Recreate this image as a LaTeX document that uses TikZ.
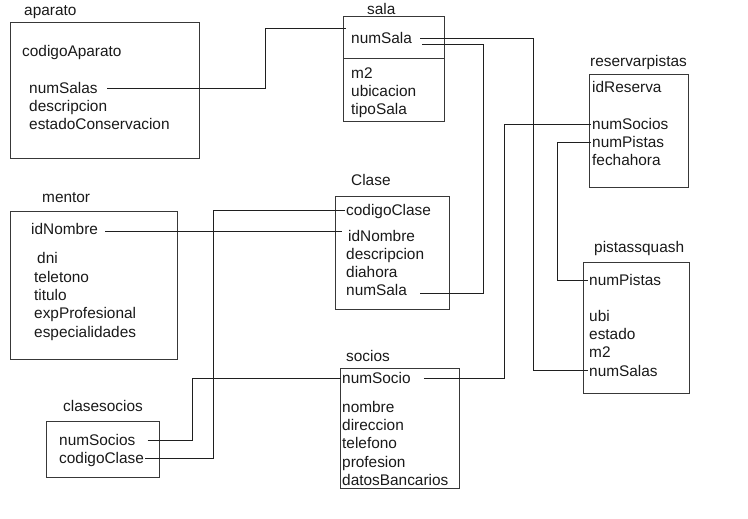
\documentclass[tikz,border=0pt]{standalone}
\usepackage{fontspec}
\setmainfont{Liberation Sans}
\usepackage{tikz}
\usetikzlibrary{positioning}

\tikzset{
    attr/.style={anchor=west, inner xsep=1pt, inner ysep=0pt, text height=14.3pt, text depth=3.5pt,
        font=\fontsize{15.4}{18}\selectfont, text=black!90},
    row/.style={attr, below=0pt of #1.south west, anchor=north west},
    tbl/.style={draw=black!78, semithick},
    link/.style={draw=black!88, semithick}
}

\begin{document}
\begin{tikzpicture}[x=1pt,y=-1pt]
    \useasboundingbox (0,0) rectangle (748,519);

    % aparato table top left
    \node[attr] (apTitle) at (23,10) {aparato};
    \draw[tbl] (10,22) rectangle (199,158);
    \node[attr] (apCodigo) at (21,51) {codigoAparato};
    \node[attr] (apNumSalas) at (28,88) {numSalas};
    \node[row=apNumSalas] (apDesc) {descripcion};
    \node[row=apDesc] (apEstado) {estadoConservacion};

    % sala table
    \node[attr] (salaTitle) at (366,9) {sala};
    \draw[tbl] (343,16) rectangle (444,121);
    \draw[tbl] (343,58) -- (444,58);
    \node[attr] (salaNumSala) at (350,38) {numSala};
    \node[attr] (salaM2) at (350,73) {m2};
    \node[row=salaM2] (salaUbic) {ubicacion};
    \node[row=salaUbic] (salaTipo) {tipoSala};

    % reservarpistas table
    \node[attr] (rpTitle) at (589,61) {reservarpistas};
    \draw[tbl] (589,74) rectangle (688,187);
    \node[attr] (rpIdReserva) at (591,87) {idReserva};
    \node[attr] (rpNumSocios) at (591,124) {numSocios};
    \node[row=rpNumSocios] (rpNumPistas) {numPistas};
    \node[row=rpNumPistas] (rpFecha) {fechahora};

    % pistassquash table
    \node[attr] (psTitle) at (593,247) {pistassquash};
    \draw[tbl] (583,262) rectangle (689,393);
    \node[attr] (psNumPistas) at (588,280) {numPistas};
    \node[attr] (psUbi) at (588,316) {ubi};
    \node[row=psUbi] (psEstado) {estado};
    \node[row=psEstado] (psM2) {m2};
    \node[row=psM2] (psNumSalas) {numSalas};

    % mentor table
    \node[attr] (meTitle) at (41,197) {mentor};
    \draw[tbl] (10,211) rectangle (177,359);
    \node[attr] (meIdNombre) at (30,229) {idNombre};
    \node[attr] (meDni) at (36,258) {dni};
    \node[attr] (meTelefono) at (33,277) {teletono};
    \node[row=meTelefono] (meTitulo) {titulo};
    \node[row=meTitulo] (meExp) {expProfesional};
    \node[row=meExp] (meEspec) {especialidades};

    % Clase table
    \node[attr] (clTitle) at (350,180) {Clase};
    \draw[tbl] (335,196) rectangle (449,309);
    \node[attr] (clCodigo) at (345,210) {codigoClase};
    \node[attr] (clIdNombre) at (347,236) {idNombre};
    \node[attr] (clDesc) at (345,254) {descripcion};
    \node[row=clDesc] (clDiahora) {diahora};
    \node[row=clDiahora] (clNumSala) {numSala};

    % clasesocios table
    \node[attr] (csTitle) at (62,406) {clasesocios};
    \draw[tbl] (46,421) rectangle (159,477);
    \node[attr] (csNumSocios) at (58,440) {numSocios};
    \node[row=csNumSocios] (csCodigo) {codigoClase};

    % socios table
    \node[attr] (soTitle) at (345,356) {socios};
    \draw[tbl] (340,368) rectangle (459,488);
    \node[attr] (soNumSocio) at (341,378) {numSocio};
    \node[attr] (soNombre) at (341,407) {nombre};
    \node[row=soNombre] (soDir) {direccion};
    \node[row=soDir] (soTel) {telefono};
    \node[row=soTel] (soProf) {profesion};
    \node[row=soProf] (soDatos) {datosBancarios};

    % links between keys
    \draw[link] ([xshift=8.5pt]apNumSalas.east) -- ++(158,0) |- ([yshift=10pt,xshift=-4pt]salaNumSala.west);
    \draw[link] ([xshift=7pt]salaNumSala.east) -- ++(113,0) |- (psNumSalas.west);
    \draw[link] ([xshift=9pt,yshift=-6pt]salaNumSala.east) -- ++(61,0) |- ([xshift=12pt,yshift=-3pt]clNumSala.east);
    \draw[link] ([xshift=6pt,yshift=-2pt]meIdNombre.east) -- ++(237,0);
    \draw[link] (clCodigo.west) -- ++(-132,0) |- (csCodigo.east);
    \draw[link] ([xshift=11pt]csNumSocios.east) -- ++(45,0) |- (soNumSocio.west);
    \draw[link] ([xshift=12pt]soNumSocio.east) -- ++(80,0) |- (rpNumSocios.west);
    \draw[link] (rpNumPistas.west) -- ++(-34,0) |- (psNumPistas.west);

\end{tikzpicture}
\end{document}
